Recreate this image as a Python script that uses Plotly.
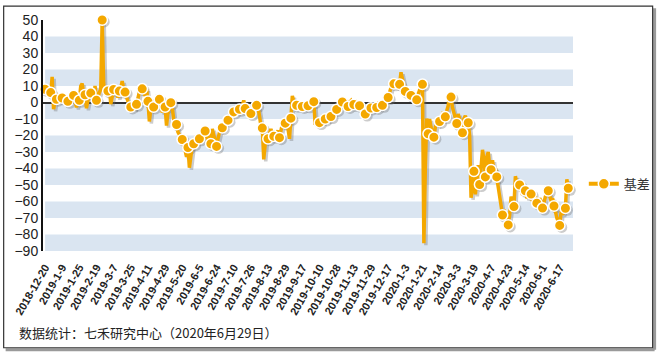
import plotly.graph_objects as go

# ---- tick labels (every 12 trading days) ----
tick_labels = ["2018-12-20", "2019-1-9", "2019-1-25", "2019-2-19", "2019-3-7", "2019-3-25",
               "2019-4-11", "2019-4-29", "2019-5-20", "2019-6-5", "2019-6-24", "2019-7-10",
               "2019-7-26", "2019-8-13", "2019-8-29", "2019-9-17", "2019-10-10", "2019-10-28",
               "2019-11-13", "2019-11-29", "2019-12-17", "2020-1-3", "2020-1-21", "2020-2-14",
               "2020-3-3", "2020-3-19", "2020-4-7", "2020-4-23", "2020-5-14", "2020-6-1",
               "2020-6-17"]
tick_step = 12

# ---- daily basis values (trading days from 2018-12-20 to 2020-6-29) ----
basis_a = [8, 6, 9, 5, 6, 15.5, -4, 1, 2, 4, 3, 1, 2.7, 1, 4, 2, 0.7, 2, 5, 3,
           4.3, 1, -3, 2, 1.3, 10, 11.5, 6, 4.7, -3.5, 2, 6, 5.7, 8, 4, 10,
           1.3, 3, 6, 8, 50, 12, 5, 8, 6.9, 10, -1, 4, 7.9, 10, 6, 3,
           6.9, 9, 13, 8, 6.3, 4, 1, -2, -2.7, 0, -2, -3, -1.1, 3, 8, 10,
           8.3, 6, 4, 8, 0.7, -11.5, -4, -2, -2.7, 1, 3, 2, 1.9, -2, -6, -4,
           -2.7, -14, -6, -3, -0.1, -3, -10, -12]
basis_b = [-13.3, -18, -20, -21, -22.4, -25, -29, -33, -27.3, -39.5, -30, -26,
           -25, -24, -20, -21, -22, -20, -18, -19, -17.3, -21, -23, -19,
           -25, -16, -20, -24, -26.6, -22, -18, -17, -15.3, -13, -12, -11,
           -10.7, -8, -7, -6, -5.7, -4, -3, -5, -4.1, -3, -2, 1.3,
           -3.7, -2, -4, -5, -6.7, -4, -2, -1, -1.7, -3, -8, -14,
           -15.5, -34.5, -25, -20, -22, -18, -16, -19, -20.5, -22, -19, -17,
           -21.3, -16, -13, -14, -12.5, -14, -16, -22, -9.5, 4, 1, -3,
           -1.7, -3, 0, -1, -2.4, -1, -3, -2]
basis_c = [-2, -1, 0, 1, 0.5, -13.5, -10, -11, -12.2, -11, -9, -10,
           -10, -9, -10, -8, -8.5, -6, -5, -4, -4.2, -3, -1, 0,
           0.3, 1, -1, -2, -2.4, 0, 1, -1, -1.2, -2, 0, -1,
           -2, -4, -6, -5, -7, -5, -4, -3, -3.3, -2, -4, -3,
           -3, -1, -2, -2, -1.7, 0, 1, 2, 3, 6, 9, 10,
           11.3, 10, 12, 11, 11, 18.3, 14, 9, 6.7, 8, 5, 6,
           4.3, 7, 3, 2, 1.6, 5, 8, 10, 11, -85.3, -40, -9.7,
           -19, -10, -15, -18, -21, -15, -12, -13]
basis_d = [-11.5, -9, -7, -8, -8.7, -5, -2, 5.3, 3.3, -3, -6, -8,
           -12.7, -7, -10, -15, -18.3, -10, -8, -11, -12.3, -20, -57.7, -50,
           -41.7, -55.7, -45, -38, -49.7, -40, -28.7, -35, -45.1, -33, -30, -38,
           -40.7, -35, -42, -40, -45.1, -50, -55, -60, -68.2, -65, -70, -72,
           -74.2, -68, -57, -60, -63.1, -44.7, -48, -52, -50, -54, -56, -52,
           -53.5, -58, -56, -54, -55.5, -60, -58, -57, -61, -63, -58, -60,
           -64, -60, -57, -55, -53.5, -56, -60, -58, -62.7, -68, -70, -72,
           -74.5, -66, -68, -65, -64.1, -46.5, -52]
series_name = "基差"
y_ticks = list(range(-90, 51, 10))
footnote = "数据统计：七禾研究中心（2020年6月29日）"

basis = basis_a + basis_b + basis_c + basis_d
n = len(basis)
xs = list(range(n))
mk = list(range(0, n, 4))
if mk[-1] != n - 1:
    mk.append(n - 1)
mx = [xs[i] for i in mk]
my = [basis[i] for i in mk]

ORANGE = "#F4A800"
SHADOW = "rgba(110,110,110,0.35)"

fig = go.Figure()
# shadow
fig.add_trace(go.Scatter(x=xs, y=basis, mode="lines", xaxis="x2", yaxis="y2",
                         line=dict(color=SHADOW, width=3.5), showlegend=False,
                         hoverinfo="skip", cliponaxis=False))
fig.add_trace(go.Scatter(x=mx, y=my, mode="markers", xaxis="x2", yaxis="y2",
                         marker=dict(color=SHADOW, size=11), showlegend=False,
                         hoverinfo="skip", cliponaxis=False))
# main line + markers
fig.add_trace(go.Scatter(x=xs, y=basis, mode="lines", xaxis="x3", yaxis="y3",
                         line=dict(color=ORANGE, width=3.5), showlegend=False,
                         cliponaxis=False))
fig.add_trace(go.Scatter(x=mx, y=my, mode="markers", xaxis="x3", yaxis="y3",
                         marker=dict(color=ORANGE, size=10.5, line=dict(color="white", width=1.5)),
                         showlegend=False, cliponaxis=False))
# legend entry
fig.add_trace(go.Scatter(x=[None], y=[None], mode="lines+markers", name=series_name,
                         line=dict(color=ORANGE, width=4),
                         marker=dict(color=ORANGE, size=11, line=dict(color="white", width=1.5))))

xr = [-1.4, 369.3]
yr = [-90, 50]
sx = 1.4   # shadow offset in index units (~2px)
sy = 1.2   # shadow offset in value units (~2px)

shapes = []
for top in [40, 20, 0, -20, -40, -60, -80]:
    shapes.append(dict(type="rect", xref="paper", yref="y", x0=0.004, x1=1, y0=top - 10, y1=top,
                       fillcolor="#DAE5F1", line=dict(width=0), layer="below"))
# outer frame
L, R, T, B = 43, 86, 17, 103
PW, PH = 668 - L - R, 354 - T - B
def px(x): return (x - L) / PW
def py(y): return (354 - B - y) / PH
shapes.append(dict(type="line", xref="paper", yref="paper", x0=px(665), x1=px(665), y0=py(5), y1=py(351),
                   line=dict(color="#9a9a9a", width=3)))
shapes.append(dict(type="line", xref="paper", yref="paper", x0=px(5), x1=px(665), y0=py(351), y1=py(351),
                   line=dict(color="#9a9a9a", width=3)))
shapes.append(dict(type="rect", xref="paper", yref="paper", x0=px(3), x1=px(663), y0=py(349), y1=py(3),
                   line=dict(color="#333333", width=1.2), fillcolor="rgba(0,0,0,0)"))

fig.update_layout(
    width=668, height=354, autosize=False,
    margin=dict(l=L, r=R, t=T, b=B),
    paper_bgcolor="white", plot_bgcolor="white",
    font=dict(family="Liberation Sans, Arial, sans-serif", color="#222"),
    xaxis=dict(range=xr, tickvals=[i * tick_step for i in range(len(tick_labels))],
               ticktext=["<b>%s</b>" % t for t in tick_labels], tickangle=-60,
               tickfont=dict(size=11, color="#222"), ticklabelstandoff=7,
               showgrid=False, zeroline=False, showline=False, ticks=""),
    yaxis=dict(range=yr, tickvals=y_ticks, tickfont=dict(size=14, color="#222"),
               showgrid=False, zeroline=True, zerolinecolor="#333", zerolinewidth=2,
               showline=True, linecolor="#111", linewidth=2, ticks=""),
    xaxis2=dict(overlaying="x", range=[xr[0] - sx, xr[1] - sx], visible=False),
    yaxis2=dict(overlaying="y", range=[yr[0] + sy, yr[1] + sy], visible=False),
    xaxis3=dict(overlaying="x", range=xr, visible=False),
    yaxis3=dict(overlaying="y", range=yr, visible=False),
    showlegend=True,
    legend=dict(x=px(593), y=py(183), xanchor="left", yanchor="middle",
                font=dict(size=13, family="Noto Sans CJK SC", color="#333"),
                bgcolor="rgba(0,0,0,0)"),
    shapes=shapes,
    annotations=[dict(text=footnote, xref="paper", yref="paper", x=px(17), y=py(334),
                      xanchor="left", yanchor="middle", showarrow=False,
                      font=dict(size=13, family="Noto Sans CJK SC", color="#222"))],
)

fig.write_html("out.html")
